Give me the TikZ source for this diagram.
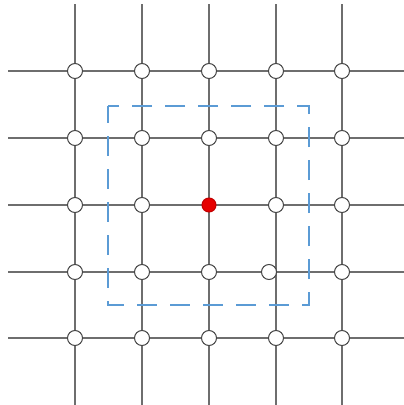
\documentclass[tikz,border=0pt]{standalone}
\usepackage{xcolor}
\usepackage{tikz}

\definecolor{gridgray}{RGB}{110,110,110}
\definecolor{ringgray}{RGB}{70,70,70}
\definecolor{boxblue}{RGB}{91,155,213}
\definecolor{dotred}{RGB}{230,0,0}

\begin{document}
\begin{tikzpicture}[
    x=1pt, y=-1pt,
    gridline/.style={draw=gridgray, line width=2pt},
    site/.style={circle, draw=ringgray, fill=white, line width=1pt, minimum size=15pt, inner sep=0pt},
    centre/.style={site, minimum size=14pt, fill=dotred, draw=dotred!85!black},
    window/.style={draw=boxblue, line width=2pt, dash pattern=on 20pt off 13pt, dash phase=3pt}
]
\useasboundingbox (0,0) rectangle (404,405);
% grid lines
\foreach \p [count=\i from 0] in {75,142,209,276,342} {
    \coordinate (top-\i) at (\p,4);
    \coordinate (bot-\i) at (\p,405);
    \draw[gridline] (top-\i) -- (bot-\i);
}
\foreach \q [count=\j from 0] in {71,138,205,272,338} {
    \coordinate (lft-\j) at (8,\q);
    \coordinate (rgt-\j) at (404,\q);
    \draw[gridline] (lft-\j) -- (rgt-\j);
}
% lattice sites
\foreach \i in {0,...,4} {
    \foreach \j in {0,...,4} {
        \coordinate (at) at (top-\i |- lft-\j);
        \ifnum\i\j=22
            \node[centre] (n-\i-\j) at (at) {};
        \else\ifnum\i\j=33
            \node[site, xshift=-7pt] (n-\i-\j) at (at) {};
        \else
            \node[site] (n-\i-\j) at (at) {};
        \fi\fi
    }
}
% neighbourhood window
\coordinate (win-a) at (108,106);
\coordinate (win-b) at (309,305);
\draw[window] (win-a) rectangle (win-b);
\end{tikzpicture}
\end{document}
